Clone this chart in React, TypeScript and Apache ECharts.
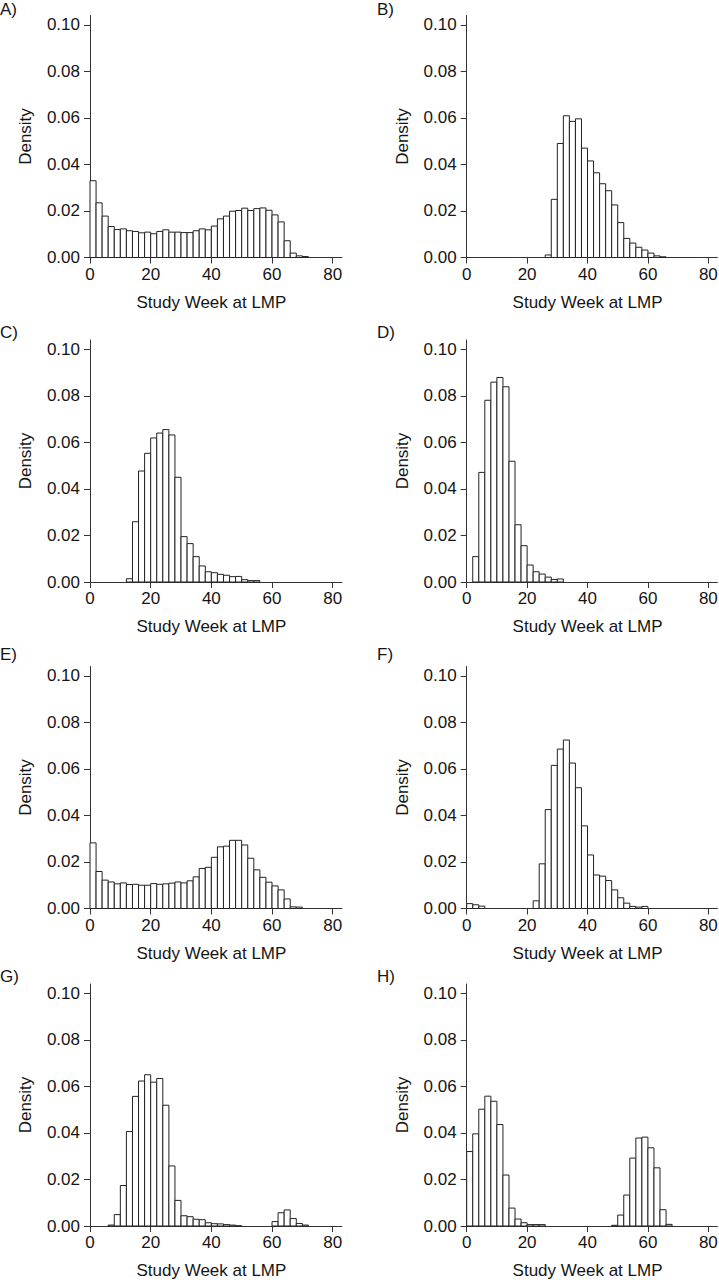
import React, { useEffect, useRef } from 'react';
import * as echarts from 'echarts';

// Histogram bins: width 2 weeks, first bin starts at week 0
const binWidth = 2;
const xTicks = [0, 20, 40, 60, 80];
const yTicks = [0, 0.02, 0.04, 0.06, 0.08, 0.1];
const panelLabels = ['A)', 'B)', 'C)', 'D)', 'E)', 'F)', 'G)', 'H)'];
const xTitle = 'Study Week at LMP';
const yTitle = 'Density';

const densA = [0.033, 0.0235, 0.0178, 0.0133, 0.012, 0.0123, 0.0115, 0.0112, 0.0106, 0.0109, 0.0102, 0.0112, 0.0119, 0.0109, 0.0109, 0.0107, 0.0107, 0.0115, 0.0123, 0.0119, 0.0135, 0.0166, 0.0178, 0.0199, 0.0202, 0.0212, 0.0202, 0.021, 0.0213, 0.0203, 0.0183, 0.0153, 0.0072, 0.0019, 0.0007, 0.0004];
const densB = [0, 0, 0, 0, 0, 0, 0, 0, 0, 0, 0, 0, 0, 0.0011, 0.025, 0.049, 0.0609, 0.0585, 0.0596, 0.047, 0.0415, 0.0364, 0.0317, 0.0287, 0.0226, 0.015, 0.0082, 0.0062, 0.0044, 0.0032, 0.0019, 0.0007, 0.0003];
const densC = [0, 0, 0, 0, 0, 0, 0.0014, 0.0259, 0.0477, 0.0553, 0.0619, 0.064, 0.0655, 0.0632, 0.045, 0.0195, 0.0165, 0.0109, 0.0069, 0.0044, 0.004, 0.0033, 0.0029, 0.0023, 0.0024, 0.001, 0.0006, 0.0006];
const densD = [0, 0.0109, 0.0471, 0.0781, 0.0859, 0.0879, 0.0839, 0.0519, 0.0246, 0.0156, 0.0073, 0.0044, 0.0034, 0.0021, 0.0011, 0.0013];
const densE = [0.0282, 0.0159, 0.0122, 0.0114, 0.0106, 0.011, 0.0103, 0.0104, 0.01, 0.01, 0.0107, 0.0104, 0.0106, 0.0109, 0.0114, 0.011, 0.0119, 0.0136, 0.0172, 0.0177, 0.022, 0.0265, 0.0268, 0.0293, 0.0293, 0.0273, 0.0216, 0.0166, 0.0134, 0.0113, 0.0097, 0.008, 0.0041, 0.0007, 0.0006];
const densF = [0.0021, 0.0016, 0.001, 0, 0, 0, 0, 0, 0, 0, 0, 0.0033, 0.0192, 0.0425, 0.0615, 0.0685, 0.0724, 0.0625, 0.0519, 0.0355, 0.023, 0.0144, 0.0139, 0.012, 0.008, 0.0046, 0.0023, 0.0009, 0.0006, 0.0009];
const densG = [0, 0, 0, 0.0004, 0.0049, 0.0174, 0.0406, 0.0557, 0.0623, 0.065, 0.0618, 0.0634, 0.0519, 0.0258, 0.011, 0.0044, 0.004, 0.0029, 0.0027, 0.0014, 0.001, 0.0009, 0.0006, 0.0004, 0.0001, 0, 0, 0, 0, 0, 0.0019, 0.0057, 0.0069, 0.0032, 0.0011, 0.0004];
const densH = [0.032, 0.0396, 0.0502, 0.0558, 0.0536, 0.0436, 0.0219, 0.0077, 0.003, 0.0014, 0.0006, 0.0006, 0.0006, 0, 0, 0, 0, 0, 0, 0, 0, 0, 0, 0, 0.0003, 0.0047, 0.0133, 0.0292, 0.0378, 0.0382, 0.0336, 0.025, 0.007, 0.0007];

const panelData = [densA, densB, densC, densD, densE, densF, densG, densH];

// Layout (pixels)
const colLeft = [90, 466.7];
const colWidth = [251.8, 250.7];
const rowBottom = [257.5, 582, 908.5, 1226];
const plotHeight = 242;
const labelX = [0, 377];
const labelY = [9.5, 333, 655, 977];
const X_MAX = 83;
const Y_MAX = 0.104;

const FONT = 'Liberation Sans, Arial, Helvetica, sans-serif';
const TEXT = '#151515';
const LINE = '#333';

export default function App() {
  const ref = useRef<HTMLDivElement>(null);

  useEffect(() => {
    if (!ref.current) return;
    const chart = echarts.init(ref.current, undefined, { renderer: 'svg' });

    const grids: any[] = [];
    const xAxes: any[] = [];
    const yAxes: any[] = [];
    const series: any[] = [];
    const graphics: any[] = [];

    panelData.forEach((dens, i) => {
      const col = i % 2;
      const row = Math.floor(i / 2);
      grids.push({
        left: colLeft[col],
        width: colWidth[col],
        top: rowBottom[row] - plotHeight,
        height: plotHeight,
        containLabel: false,
        outerBoundsMode: 'none',
      });
      xAxes.push({
        type: 'value',
        gridIndex: i,
        min: 0,
        max: X_MAX,
        name: xTitle,
        nameLocation: 'middle',
        nameGap: 36,
        nameTextStyle: { color: TEXT, fontSize: 17, fontFamily: FONT, padding: [0, 9, 0, 0] },
        axisLine: { show: true, onZero: false, lineStyle: { color: LINE, width: 1 } },
        axisTick: { show: true, length: 6, customValues: xTicks, lineStyle: { color: LINE, width: 1 } },
        axisLabel: {
          show: true,
          customValues: xTicks,
          margin: 8,
          color: TEXT,
          fontSize: 17,
          fontFamily: FONT,
          formatter: (v: number) => String(v),
        },
        splitLine: { show: false },
      });
      yAxes.push({
        type: 'value',
        gridIndex: i,
        min: 0,
        max: Y_MAX,
        name: yTitle,
        nameLocation: 'middle',
        nameGap: 56,
        nameTextStyle: { color: TEXT, fontSize: 17, fontFamily: FONT },
        axisLine: { show: true, onZero: false, lineStyle: { color: LINE, width: 1 } },
        axisTick: { show: true, length: 6, customValues: yTicks, lineStyle: { color: LINE, width: 1 } },
        axisLabel: {
          show: true,
          customValues: yTicks,
          margin: 10,
          color: TEXT,
          fontSize: 17,
          fontFamily: FONT,
          formatter: (v: number) => v.toFixed(2),
        },
        splitLine: { show: false },
      });
      const data = dens
        .map((d, k) => [k * binWidth, (k + 1) * binWidth, d])
        .filter((r) => r[2] > 0);
      series.push({
        type: 'custom',
        xAxisIndex: i,
        yAxisIndex: i,
        encode: { x: [0, 1], y: 2 },
        data,
        renderItem: (params: any, api: any) => {
          const x0 = api.value(0);
          const x1 = api.value(1);
          const v = api.value(2);
          const p0 = api.coord([x0, v]);
          const p1 = api.coord([x1, 0]);
          return {
            type: 'rect',
            shape: { x: p0[0], y: p0[1], width: p1[0] - p0[0], height: p1[1] - p0[1] },
            style: { fill: '#ffffff', stroke: '#222', lineWidth: 1 },
          };
        },
      });
      graphics.push({
        type: 'text',
        left: labelX[col],
        top: labelY[row] - 9,
        style: { text: panelLabels[i], fill: TEXT, fontSize: 17, fontFamily: FONT },
      });
    });

    chart.setOption({
      animation: false,
      backgroundColor: '#ffffff',
      grid: grids,
      xAxis: xAxes,
      yAxis: yAxes,
      series,
      graphic: graphics,
    });

    return () => chart.dispose();
  }, []);

  return (
    <div
      ref={ref}
      style={{ position: 'absolute', left: 0, top: 0, width: 719, height: 1280, background: '#fff' }}
    />
  );
}
